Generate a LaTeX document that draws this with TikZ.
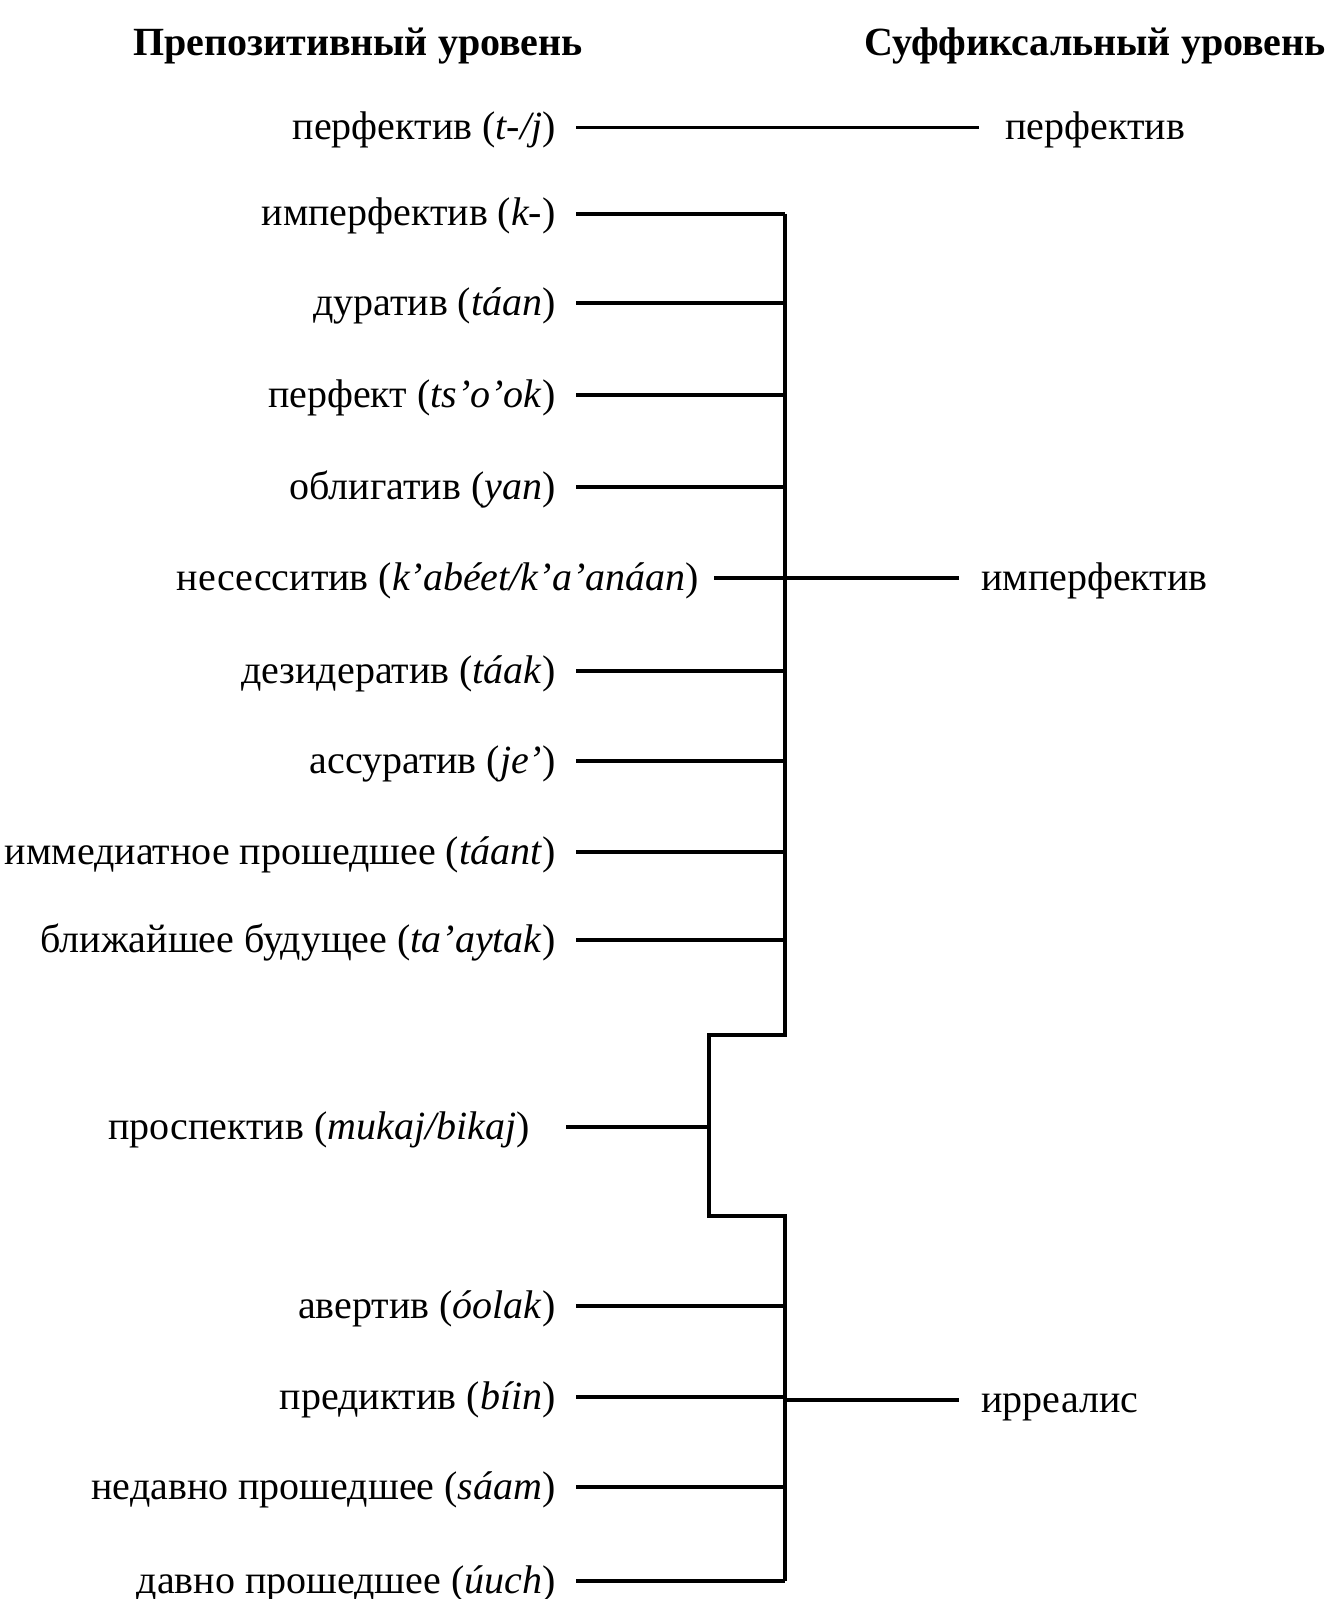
\documentclass[tikz,border=0pt]{standalone}
\usepackage{fontspec}
\setmainfont{Liberation Serif}
\begin{document}
\begin{tikzpicture}[x=0.5pt,y=-0.5pt,
  lab/.style={anchor=east,inner sep=0pt,text height=15pt,text depth=3pt,font=\fontsize{20}{24}\selectfont},
  rlab/.style={anchor=west,inner sep=0pt,text height=15pt,text depth=3pt,font=\fontsize{20}{24}\selectfont},
  head/.style={anchor=base,inner sep=0pt,font=\fontsize{20}{24}\selectfont\bfseries},
  conn/.style={line width=1.7pt}]
\useasboundingbox (0,0) rectangle (1327,1599);
% headers
\node[head] (h1) at (358,56) {Препозитивный уровень};
\node[head] (h2) at (1095,56) {Суффиксальный уровень};
% left labels
\node[lab] (l0) at (556,127.5) {перфектив (\textit{t-/j})};
\node[lab] (l1) at (556,214) {имперфектив (\textit{k-})};
\node[lab] (l2) at (556,303) {дуратив (\textit{táan})};
\node[lab] (l3) at (556,395) {перфект (\textit{ts’o’ok})};
\node[lab] (l4) at (556,487) {облигатив (\textit{yan})};
\node[lab] (l5) at (699,578) {несесситив (\textit{k’abéet/k’a’anáan})};
\node[lab] (l6) at (556,671) {дезидератив (\textit{táak})};
\node[lab] (l7) at (556,761) {ассуратив (\textit{je’})};
\node[lab] (l8) at (556,852) {иммедиатное прошедшее (\textit{táant})};
\node[lab] (l9) at (556,940) {ближайшее будущее (\textit{ta’aytak})};
\node[lab] (lp) at (530,1127) {проспектив (\textit{mukaj/bikaj})};
\node[lab] (l10) at (556,1306) {авертив (\textit{óolak})};
\node[lab] (l11) at (556,1397) {предиктив (\textit{bíin})};
\node[lab] (l12) at (556,1487) {недавно прошедшее (\textit{sáam})};
\node[lab] (l13) at (556,1581) {давно прошедшее (\textit{úuch})};
% right labels
\node[rlab] (r0) at (1005,127.5) {перфектив};
\node[rlab] (r1) at (981,578) {имперфектив};
\node[rlab] (r2) at (981,1400) {ирреалис};
% bracket coordinates
\coordinate (bx) at (785,0);
\coordinate (px) at (709,0);
\coordinate (ka) at (0,1035);
\coordinate (kb) at (0,1216);
% bracket
\draw[conn] (l1.east -| bx) -- (ka -| bx) -- (ka -| px) -- (kb -| px) -- (kb -| bx) -- (l13.east -| bx);
% connectors
\draw[conn] ([xshift=10pt]l0.east) -- ([xshift=-13pt]r0.west);
\foreach \n in {l1,l2,l3,l4,l6,l7,l8,l9,l10,l11,l12,l13}
  \draw[conn] ([xshift=10pt]\n.east) -- (\n.east -| bx);
\draw[conn] ([xshift=7.5pt]l5.east) -- (l5.east -| bx);
\draw[conn] ([xshift=18pt]lp.east) -- (lp.east -| px);
\draw[conn] (r1.west -| bx) -- ([xshift=-11pt]r1.west);
\draw[conn] (r2.west -| bx) -- ([xshift=-11pt]r2.west);
\end{tikzpicture}
\end{document}
